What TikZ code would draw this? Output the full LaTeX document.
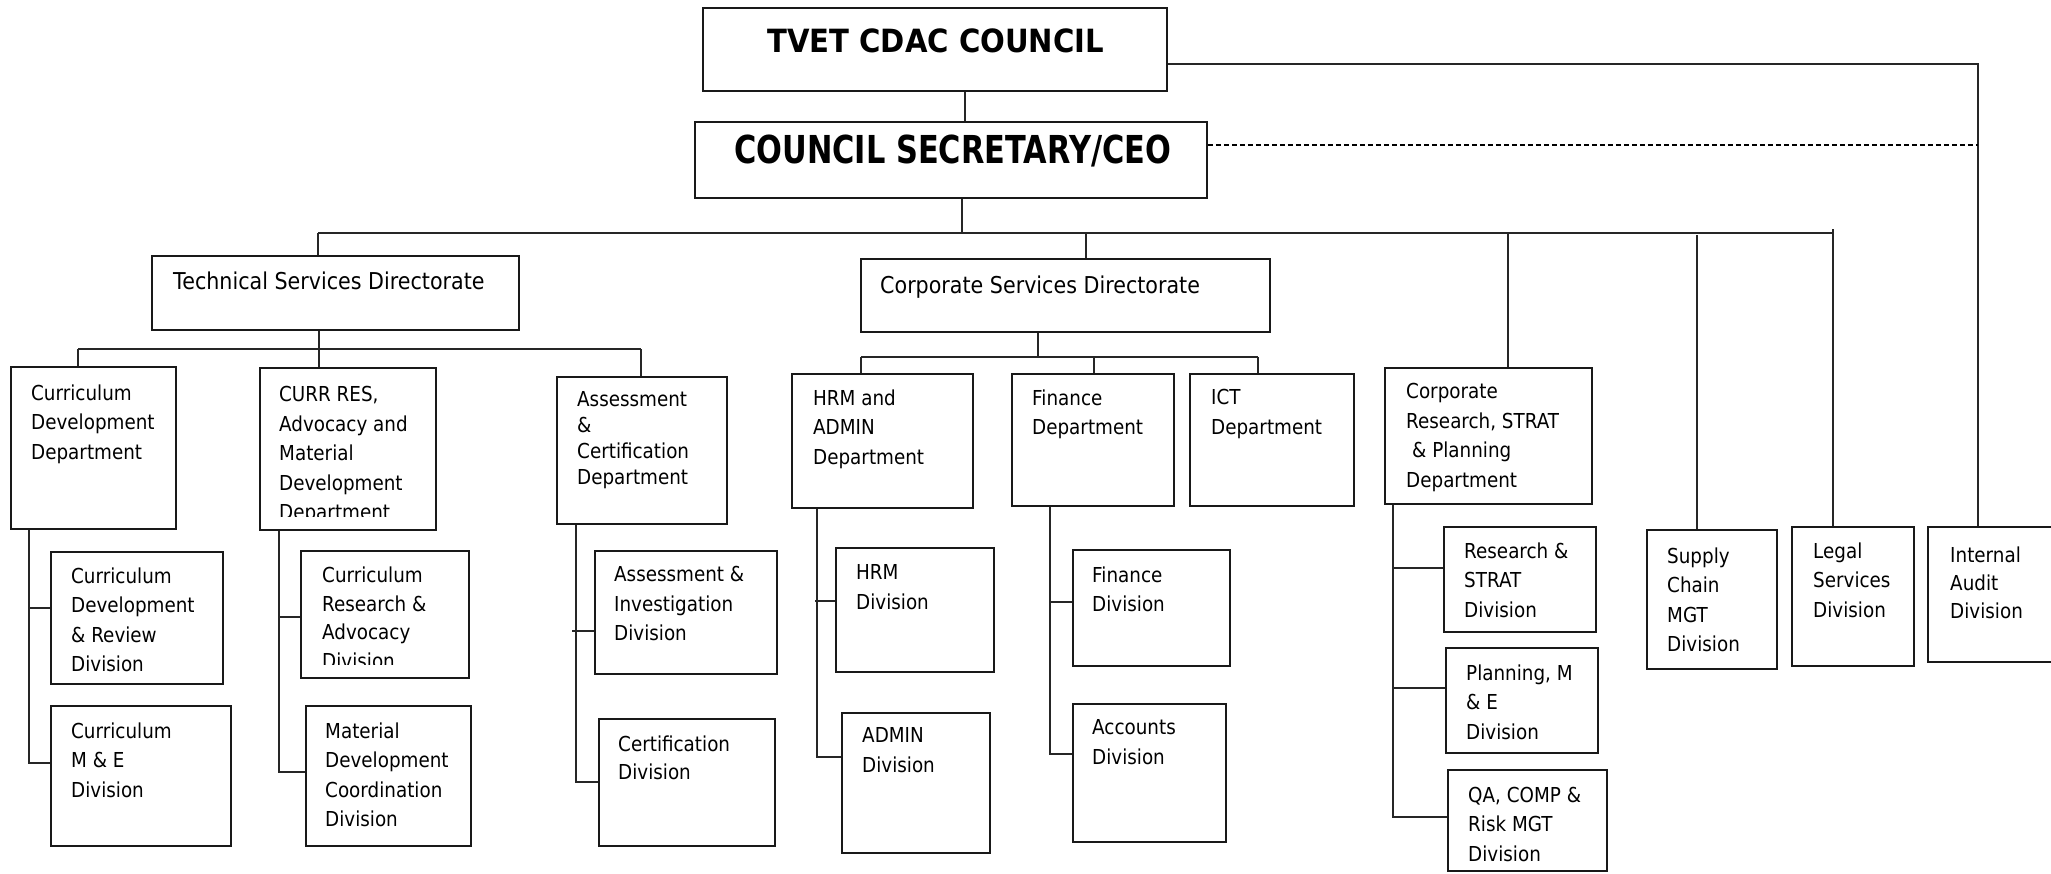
\documentclass[tikz,border=0pt]{standalone}
\usepackage{fontspec}
\usetikzlibrary{fit}
\newfontfamily\bodyfont[FakeStretch=0.89]{DejaVu Sans}
\newfontfamily\topfont[FakeStretch=0.91]{DejaVu Sans}
\newfontfamily\ceofont[FakeStretch=0.79]{DejaVu Sans}

\begin{document}
\begin{tikzpicture}[x=1pt,y=-1pt,
  orgbox/.style={draw=black!90, line width=1.6pt, inner sep=0pt},
  wire/.style={draw=black!85, line width=1.3pt},
  bodytxt/.style={anchor=north west, inner sep=0pt, align=left, yshift=15.5pt,
    font=\bodyfont\fontsize{20.6}{29.5}\selectfont},
  dirtxt/.style={anchor=base west, inner sep=0pt,
    font=\bodyfont\fontsize{23.2}{28}\selectfont},
]
\useasboundingbox (0,0) rectangle (2051,873);

% ---------- boxes ----------
\node[orgbox, fit={(703,8) (1167,91)}] (tvet) {};
\node[orgbox, fit={(695,122) (1207,198)}] (ceo) {};
\node[orgbox, fit={(152,256) (519,330)}] (tsd) {};
\node[orgbox, fit={(861,259) (1270,332)}] (csd) {};
\node[orgbox, fit={(11,367) (176,529)}] (cdd) {};
\node[orgbox, fit={(260,368) (436,530)}] (crd) {};
\node[orgbox, fit={(557,377) (727,524)}] (acd) {};
\node[orgbox, fit={(792,374) (973,508)}] (hrd) {};
\node[orgbox, fit={(1012,374) (1174,506)}] (fnd) {};
\node[orgbox, fit={(1190,374) (1354,506)}] (ictd) {};
\node[orgbox, fit={(1385,368) (1592,504)}] (crp) {};
\node[orgbox, fit={(51,552) (223,684)}] (cdrv) {};
\node[orgbox, fit={(51,706) (231,846)}] (cme) {};
\node[orgbox, fit={(301,551) (469,678)}] (cra) {};
\node[orgbox, fit={(306,706) (471,846)}] (mdc) {};
\node[orgbox, fit={(595,551) (777,674)}] (aid) {};
\node[orgbox, fit={(599,719) (775,846)}] (cer) {};
\node[orgbox, fit={(836,548) (994,672)}] (hrm) {};
\node[orgbox, fit={(842,713) (990,853)}] (adm) {};
\node[orgbox, fit={(1073,550) (1230,666)}] (fin) {};
\node[orgbox, fit={(1073,704) (1226,842)}] (acc) {};
\node[orgbox, fit={(1444,527) (1596,632)}] (rsd) {};
\node[orgbox, fit={(1446,648) (1598,753)}] (pme) {};
\node[orgbox, fit={(1448,770) (1607,871)}] (qa) {};
\node[orgbox, fit={(1647,530) (1777,669)}] (sup) {};
\node[orgbox, fit={(1792,527) (1914,666)}] (leg) {};
\node[orgbox, fit={(1928,527) (2070,662)}] (aud) {};

% ---------- titles ----------
\node[anchor=base west, inner sep=0pt, font=\topfont\bfseries\fontsize{32}{36}\selectfont]
  (tvet-t) at (767,52) {TVET CDAC COUNCIL};
\node[anchor=base west, inner sep=0pt, font=\ceofont\bfseries\fontsize{38.5}{42}\selectfont]
  (ceo-t) at (734,163) {COUNCIL SECRETARY/CEO};
\node[dirtxt] (tsd-t) at (173,289) {Technical Services Directorate};
\node[dirtxt] (csd-t) at (880,293) {Corporate Services Directorate};

% ---------- department texts ----------
\node[bodytxt] (cdd-t) at (31,400) {Curriculum\\Development\\Department};
\begin{scope}
  \clip (262,370) rectangle (434,516);
  \node[bodytxt] (crd-t) at (279,402) {CURR RES,\\Advocacy and\\Material\\Development\\Department};
\end{scope}
\node[bodytxt, font=\bodyfont\fontsize{20.6}{26}\selectfont] (acd-t) at (577,407)
  {Assessment\\\&\\Certification\\Department};
\node[bodytxt] (hrd-t) at (813,405) {HRM and\\ADMIN\\Department};
\node[bodytxt] (fnd-t) at (1032,405) {Finance\\Department};
\node[bodytxt] (ictd-t) at (1211,405) {ICT\\Department};
\node[bodytxt] (crp-t) at (1406,399) {Corporate\\Research, STRAT\\\hspace*{6pt}\& Planning\\Department};

% ---------- division texts ----------
\node[bodytxt] (cdrv-t) at (71,583) {Curriculum\\Development\\\& Review\\Division};
\node[bodytxt] (cme-t) at (71,738) {Curriculum\\M \& E\\Division};
\begin{scope}
  \clip (303,553) rectangle (467,664);
  \node[bodytxt, font=\bodyfont\fontsize{20.6}{28.7}\selectfont] (cra-t) at (322,582)
    {Curriculum\\Research \&\\Advocacy\\Division};
\end{scope}
\node[bodytxt] (mdc-t) at (325,738) {Material\\Development\\Coordination\\Division};
\node[bodytxt] (aid-t) at (614,582) {Assessment \&\\Investigation\\Division};
\node[bodytxt, font=\bodyfont\fontsize{20.6}{28}\selectfont] (cer-t) at (618,751) {Certification\\Division};
\node[bodytxt] (hrm-t) at (856,580) {HRM\\Division};
\node[bodytxt] (adm-t) at (862,743) {ADMIN\\Division};
\node[bodytxt] (fin-t) at (1092,582) {Finance\\Division};
\node[bodytxt] (acc-t) at (1092,735) {Accounts\\Division};
\node[bodytxt] (rsd-t) at (1464,558) {Research \&\\STRAT\\Division};
\node[bodytxt] (pme-t) at (1466,680) {Planning, M\\\& E\\Division};
\node[bodytxt] (qa-t) at (1468,802) {QA, COMP \&\\Risk MGT\\Division};
\node[bodytxt] (sup-t) at (1667,563) {Supply\\Chain\\MGT\\Division};
\node[bodytxt] (leg-t) at (1813,558) {Legal\\Services\\Division};
\node[bodytxt, font=\bodyfont\fontsize{20.6}{28}\selectfont] (aud-t) at (1950,562) {Internal\\Audit\\Division};

% ---------- top level links ----------
\draw[wire] (965,0 |- tvet.south) -- (965,0 |- ceo.north);
\coordinate (auc) at (1978,64);
\draw[wire] (tvet.east |- auc) -- (auc) -- (auc |- aud.north);
\draw[wire, draw=black, line width=1.2pt, dash pattern=on 5pt off 3pt] (ceo.east |- 0,145) -- (1978,145);

% main bus below the secretary
\coordinate (j0) at (962,233);
\coordinate (bw) at (318,233);
\coordinate (be) at (1833,233);
\coordinate (jc) at (1086,233);
\coordinate (jr) at (1508,233);
\coordinate (js) at (1697,235);
\draw[wire] (j0 |- ceo.south) -- (j0);
\draw[wire] (bw) -- (be);
\draw[wire] (bw) -- (bw |- tsd.north);
\draw[wire] (jc) -- (jc |- csd.north);
\draw[wire] (jr) -- (jr |- crp.north);
\draw[wire] (js) -- (js |- sup.north);
\draw[wire] ([yshift=4pt]be) -- (be |- leg.north);

% technical services branch
\coordinate (tb) at (319,349);
\coordinate (tw) at (78,349);
\coordinate (te) at (641,349);
\draw[wire] (tb |- tsd.south) -- (tb |- crd.north);
\draw[wire] (tw) -- (te);
\draw[wire] (tw) -- (tw |- cdd.north);
\draw[wire] (te) -- (te |- acd.north);

% corporate services branch
\coordinate (cb) at (1038,357);
\coordinate (cw) at (861,357);
\coordinate (cm) at (1094,357);
\coordinate (ce) at (1258,357);
\draw[wire] (cb |- csd.south) -- (cb);
\draw[wire] (cw) -- (ce);
\draw[wire] (cw) -- (cw |- hrd.north);
\draw[wire] (cm) -- (cm |- fnd.north);
\draw[wire] (ce) -- (ce |- ictd.north);

% department to division stems
\coordinate (s1) at (29,763);
\draw[wire] (s1 |- cdd.south) -- (s1) -- (cme.west |- s1);
\draw[wire] (29,608) -- (cdrv.west |- 0,608);

\coordinate (s2) at (279,772);
\draw[wire] (s2 |- crd.south) -- (s2) -- (mdc.west |- s2);
\draw[wire] (279,617) -- (cra.west |- 0,617);

\coordinate (s3) at (576,782);
\draw[wire] (s3 |- acd.south) -- (s3) -- (cer.west |- s3);
\draw[wire] (572,631) -- (aid.west |- 0,631);

\coordinate (s4) at (817,757);
\draw[wire] (s4 |- hrd.south) -- (s4) -- (adm.west |- s4);
\draw[wire] (815,601) -- (hrm.west |- 0,601);

\coordinate (s5) at (1050,754);
\draw[wire] (s5 |- fnd.south) -- (s5) -- (acc.west |- s5);
\draw[wire] (1050,602) -- (fin.west |- 0,602);

\coordinate (s6) at (1393,817);
\draw[wire] (s6 |- crp.south) -- (s6) -- (qa.west |- s6);
\draw[wire] (1393,568) -- (rsd.west |- 0,568);
\draw[wire] (1393,688) -- (pme.west |- 0,688);
\end{tikzpicture}
\end{document}
